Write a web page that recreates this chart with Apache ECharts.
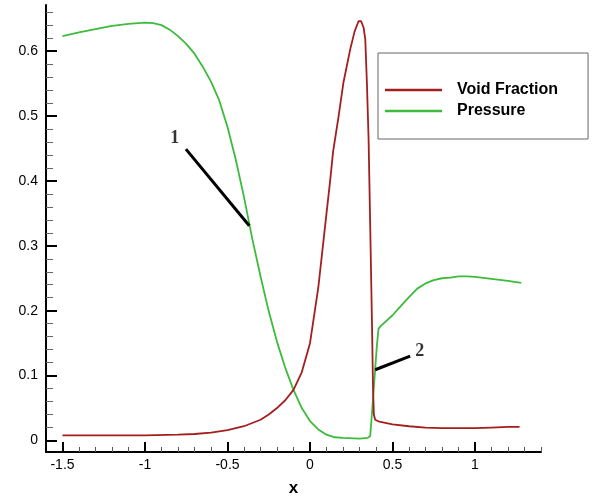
<!DOCTYPE html>
<html>
<head>
<meta charset="utf-8">
<script src="https://cdn.jsdelivr.net/npm/echarts@6.0.0/dist/echarts.min.js"></script>
<style>
html,body{margin:0;padding:0;background:#fff;}
#chart{width:592px;height:502px;}
</style>
</head>
<body>
<div id="chart"></div>
<script>
// ---- data ----
const voidX = [-1.5,-1.0,-0.8,-0.7,-0.6,-0.5,-0.4,-0.3,-0.25,-0.2,-0.15,-0.1,-0.05,0,0.05,0.1,0.122,0.14,0.173,0.203,0.244,0.27,0.294,0.31,0.325,0.335,0.345,0.355,0.365,0.375,0.382,0.387,0.395,0.42,0.5,0.6,0.7,0.8,0.9,1.0,1.1,1.2,1.27];
const voidY = [0.008,0.008,0.009,0.010,0.012,0.016,0.022,0.032,0.040,0.050,0.062,0.078,0.105,0.150,0.235,0.350,0.400,0.445,0.499,0.552,0.603,0.630,0.646,0.646,0.636,0.618,0.550,0.465,0.330,0.190,0.080,0.040,0.032,0.029,0.025,0.022,0.020,0.019,0.019,0.019,0.020,0.021,0.021];

const presX = [-1.5,-1.4,-1.3,-1.2,-1.1,-1.0,-0.95,-0.9,-0.85,-0.8,-0.75,-0.7,-0.65,-0.6,-0.55,-0.5,-0.45,-0.4,-0.35,-0.3,-0.25,-0.2,-0.15,-0.1,-0.05,0,0.05,0.1,0.15,0.2,0.3,0.35,0.365,0.375,0.385,0.395,0.405,0.415,0.43,0.445,0.5,0.55,0.6,0.65,0.7,0.75,0.8,0.85,0.9,0.95,1.0,1.1,1.2,1.28];
const presY = [0.623,0.629,0.634,0.639,0.642,0.644,0.643,0.640,0.633,0.623,0.611,0.596,0.576,0.553,0.524,0.483,0.433,0.375,0.311,0.253,0.199,0.152,0.112,0.078,0.050,0.030,0.017,0.009,0.005,0.004,0.003,0.004,0.007,0.040,0.075,0.110,0.145,0.172,0.177,0.180,0.193,0.207,0.221,0.234,0.242,0.247,0.250,0.251,0.253,0.253,0.252,0.249,0.246,0.243];

const seriesNames = ['Void Fraction', 'Pressure'];

const xMajorTicks = [-1.5,-1,-0.5,0,0.5,1];
const xMinorTicks = [-1.4,-1.3,-1.2,-1.1,-0.9,-0.8,-0.7,-0.6,-0.4,-0.3,-0.2,-0.1,0.1,0.2,0.3,0.4,0.6,0.7,0.8,0.9,1.1,1.2,1.3,1.4];
const yMajorTicks = [0,0.1,0.2,0.3,0.4,0.5,0.6];
const yMinorTicks = [0.02,0.04,0.06,0.08,0.12,0.14,0.16,0.18,0.22,0.24,0.26,0.28,0.32,0.34,0.36,0.38,0.42,0.44,0.46,0.48,0.52,0.54,0.56,0.58,0.62,0.64,0.66];

// annotation leader lines and labels (data coordinates)
const annot1Line = [[-0.752,0.449],[-0.368,0.331]];
const annot2Line = [[0.395,0.109],[0.607,0.130]];
const annotLabels = [['1',-0.82,0.466],['2',0.665,0.138]];

// ---- chart ----
const zip = (xs, ys) => xs.map((x,i)=>[x, ys[i]]);
const chart = echarts.init(document.getElementById('chart'), null, {renderer:'canvas'});
const X_MIN=-1.6, X_MAX=1.4, Y_MIN=-0.0177, Y_MAX=0.671;
const font = 'Liberation Sans, Arial, Helvetica, sans-serif';

const baseX = {type:'value', min:X_MIN, max:X_MAX, position:'bottom', splitLine:{show:false}};
const baseY = {type:'value', min:Y_MIN, max:Y_MAX, position:'left', splitLine:{show:false}};

chart.setOption({
  animation:false,
  backgroundColor:'#ffffff',
  grid:{left:46, right:51, top:5, bottom:45, containLabel:false},
  xAxis:[
    Object.assign({}, baseX, {
      name:'x', nameLocation:'middle', nameGap:28,
      nameTextStyle:{color:'#000', fontSize:17, fontWeight:'bold', fontFamily:font},
      axisLine:{show:true, onZero:false, lineStyle:{color:'#000', width:2}},
      axisTick:{show:true, inside:true, length:10, customValues:xMajorTicks, lineStyle:{color:'#000', width:2}},
      axisLabel:{show:true, customValues:xMajorTicks, margin:6, color:'#000', fontSize:14, fontFamily:font,
        formatter:v=>String(v)}
    }),
    Object.assign({}, baseX, {
      axisLine:{show:false, onZero:false},
      axisTick:{show:true, inside:true, length:5, customValues:xMinorTicks, lineStyle:{color:'#555', width:1}},
      axisLabel:{show:false}
    })
  ],
  yAxis:[
    Object.assign({}, baseY, {
      axisLine:{show:true, onZero:false, lineStyle:{color:'#000', width:2}},
      axisTick:{show:true, inside:true, length:11, customValues:yMajorTicks, lineStyle:{color:'#000', width:2}},
      axisLabel:{show:true, customValues:yMajorTicks, margin:8, color:'#000', fontSize:14, fontFamily:font,
        formatter:v=>String(v)}
    }),
    Object.assign({}, baseY, {
      axisLine:{show:false, onZero:false},
      axisTick:{show:true, inside:true, length:7, customValues:yMinorTicks, lineStyle:{color:'#666', width:1}},
      axisLabel:{show:false}
    })
  ],
  legend:{
    data:seriesNames,
    orient:'vertical',
    left:378, top:53,
    backgroundColor:'#fff',
    borderColor:'#666', borderWidth:1, borderRadius:0,
    padding:[29,30,20,7],
    itemWidth:57, itemHeight:2.5, itemGap:5,
    icon:'rect',
    textStyle:{color:'#000', fontSize:16, fontWeight:'bold', fontFamily:font, lineHeight:16, padding:[0,0,0,10]}
  },
  series:[
    {name:seriesNames[0], type:'line', data:zip(voidX, voidY), showSymbol:false, symbol:'none',
      lineStyle:{color:'#a31e1e', width:1.8}, itemStyle:{color:'#a31e1e'}, z:3},
    {name:seriesNames[1], type:'line', data:zip(presX, presY), showSymbol:false, symbol:'none',
      lineStyle:{color:'#3dbb3d', width:1.8}, itemStyle:{color:'#3dbb3d'}, z:2},
    {name:'annot1', type:'line', data:annot1Line, symbol:'none', silent:true,
      lineStyle:{color:'#000', width:3}, z:4},
    {name:'annot2', type:'line', data:annot2Line, symbol:'none', silent:true,
      lineStyle:{color:'#000', width:3}, z:4},
    {name:'annotLabels', type:'scatter', symbolSize:1, silent:true,
      itemStyle:{color:'rgba(0,0,0,0)'},
      data:annotLabels.map(a=>({name:a[0], value:[a[1],a[2]]})),
      label:{show:true, position:'inside', formatter:p=>p.name, color:'#000',
        fontFamily:'Liberation Serif, Times New Roman, serif', fontWeight:'bold', fontSize:18}, z:5}
  ]
});
</script>
</body>
</html>
